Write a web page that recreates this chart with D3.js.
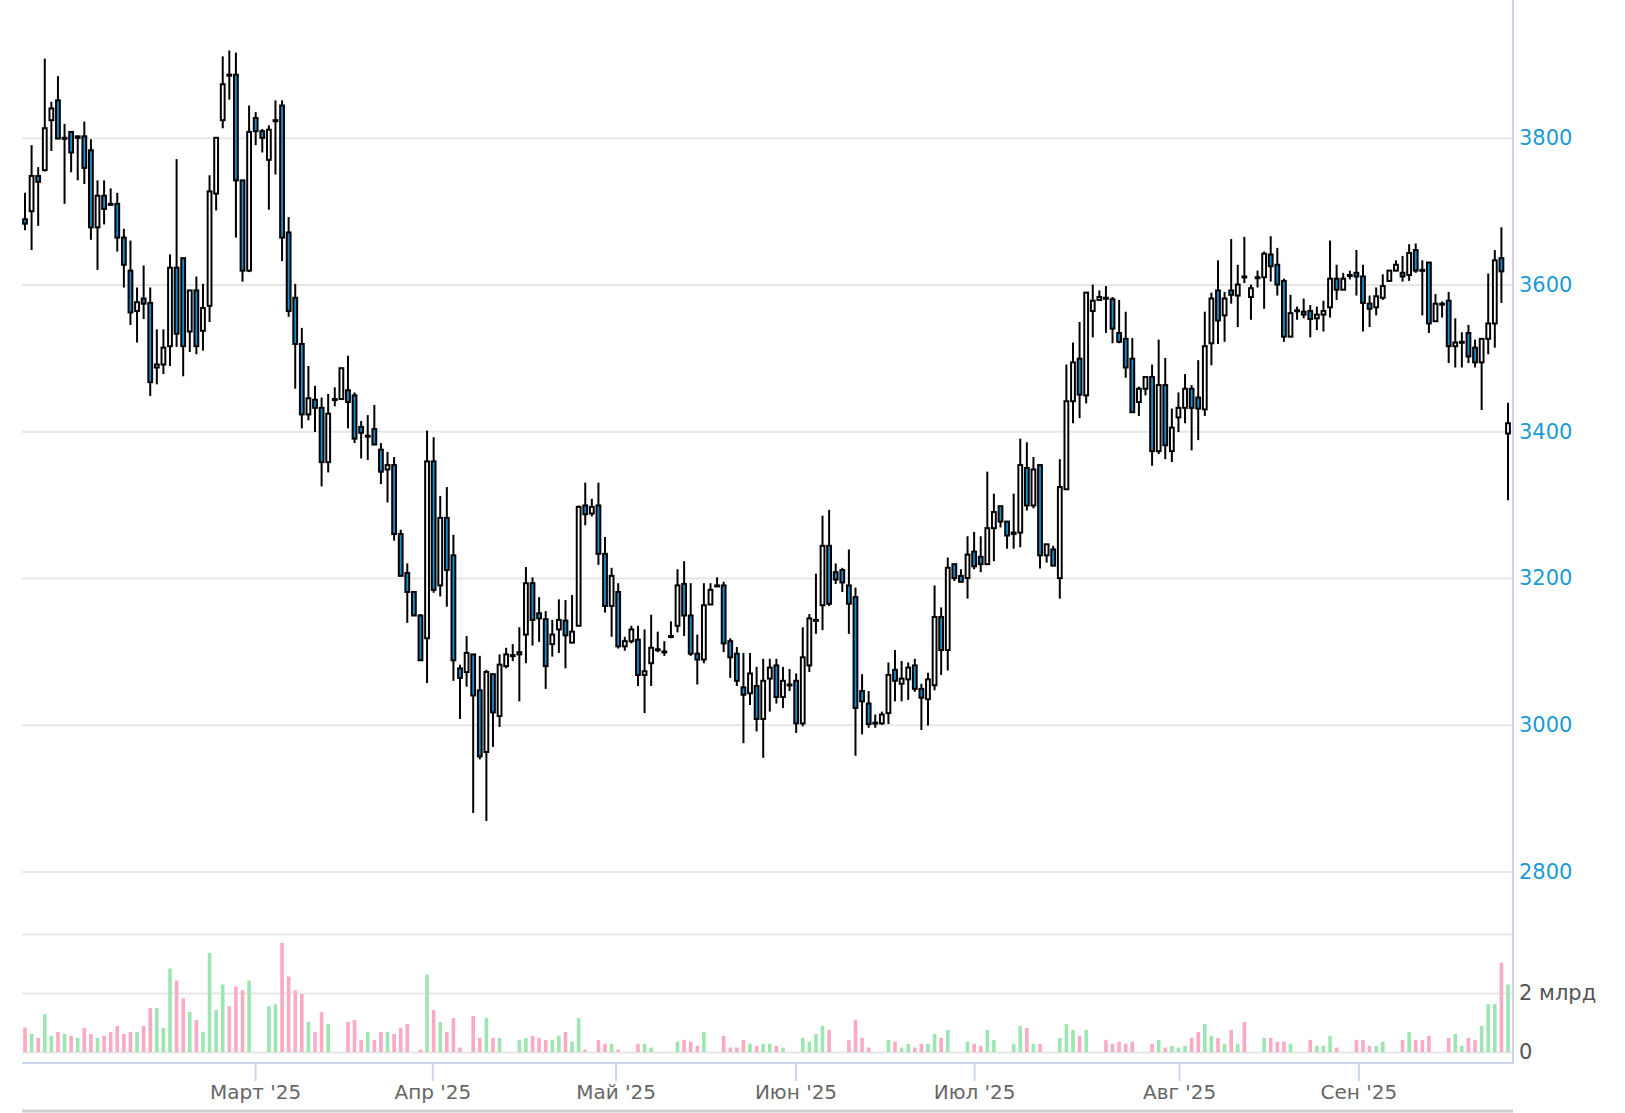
<!DOCTYPE html>
<html>
<head>
<meta charset="utf-8">
<script src="https://cdn.jsdelivr.net/npm/d3@7"></script>
<style>
  body { margin:0; background:#fff; }
  svg { display:block; }
</style>
</head>
<body>
<script>
// daily candles (index 0 = first candle on the left)
var opens = [
  3689,3700,3748,3756,3824,3851,3799,3808,3800,3802,
  3783,3678,3721,3710,3710,3664,3619,3564,3581,3575,
  3487,3491,3516,3623,3636,3536,3592,3537,3571,3724,
  3824,3886,3886,3742,3619,3827,3809,3770,3823,3844,
  3671,3582,3519,3423,3443,3432,3358,3444,3444,3456,
  3449,3406,3393,3403,3375,3348,3354,3260,3207,3181,
  3149,3118,3359,3190,3282,3231,3077,3072,3096,3047,
  2963,3069,3012,3080,3095,3096,3123,3193,3152,3144,
  3110,3130,3142,3112,3135,3299,3288,3299,3233,3162,
  3181,3107,3114,3116,3068,3084,3103,3100,3121,3135,
  3192,3149,3097,3089,3164,3190,3190,3114,3097,3051,
  3043,3053,3008,3063,3081,3038,3055,3060,3002,3081,
  3142,3163,3244,3208,3211,3190,3174,3046,3029,3002,
  3002,3016,3075,3056,3062,3081,3049,3035,3054,3147,
  3102,3219,3203,3200,3236,3229,3219,3268,3298,3277,
  3260,3262,3350,3299,3354,3231,3239,3200,3321,3441,
  3499,3449,3564,3579,3582,3580,3534,3526,3499,3440,
  3458,3474,3373,3463,3373,3419,3432,3458,3446,3430,
  3520,3592,3558,3592,3585,3611,3583,3610,3610,3641,
  3627,3605,3529,3564,3563,3564,3554,3559,3569,3608,
  3593,3613,3616,3611,3574,3569,3582,3605,3619,3616,
  3613,3647,3620,3630,3550,3574,3578,3516,3521,3534,
  3514,3494,3526,3547,3636,3397
];
var highs = [
  3725,3790,3760,3908,3849,3884,3819,3808,3803,3822,
  3798,3742,3742,3731,3725,3676,3660,3596,3626,3596,
  3539,3539,3641,3771,3636,3592,3611,3601,3749,3800,
  3911,3919,3916,3742,3844,3835,3812,3817,3851,3851,
  3692,3601,3541,3489,3462,3446,3451,3460,3486,3503,
  3453,3414,3422,3436,3384,3372,3365,3266,3220,3181,
  3151,3401,3392,3312,3324,3259,3082,3121,3096,3094,
  3075,3069,3096,3105,3110,3133,3215,3201,3174,3155,
  3143,3171,3170,3177,3299,3330,3308,3330,3256,3214,
  3193,3120,3135,3135,3130,3150,3127,3114,3141,3212,
  3223,3193,3123,3193,3193,3201,3195,3118,3106,3098,
  3098,3079,3090,3090,3090,3079,3076,3070,3133,3151,
  3206,3285,3293,3220,3214,3239,3187,3069,3046,3014,
  3018,3085,3102,3087,3085,3090,3056,3071,3190,3160,
  3228,3219,3212,3257,3263,3257,3345,3315,3298,3277,
  3315,3390,3385,3365,3354,3246,3244,3362,3491,3521,
  3549,3589,3600,3592,3598,3583,3579,3563,3527,3461,
  3474,3491,3525,3500,3431,3453,3478,3463,3497,3563,
  3589,3633,3590,3662,3627,3665,3600,3619,3645,3666,
  3650,3608,3586,3570,3581,3572,3570,3578,3660,3627,
  3616,3619,3647,3627,3585,3596,3614,3619,3633,3639,
  3655,3656,3633,3630,3587,3577,3590,3554,3535,3545,
  3525,3526,3615,3647,3678,3439
];
var lows = [
  3674,3647,3680,3754,3782,3799,3710,3753,3742,3737,
  3661,3620,3682,3708,3645,3596,3545,3521,3553,3448,
  3464,3478,3489,3515,3475,3508,3505,3510,3549,3701,
  3813,3852,3664,3604,3617,3790,3780,3702,3750,3632,
  3556,3458,3404,3415,3399,3325,3344,3434,3444,3404,
  3384,3363,3361,3382,3328,3303,3251,3203,3139,3149,
  3088,3057,3180,3175,3161,3060,3008,3052,2880,2953,
  2869,2970,2997,3077,3087,3032,3084,3108,3113,3049,
  3093,3098,3077,3112,3135,3272,3284,3218,3153,3120,
  3104,3101,3111,3053,3016,3053,3099,3094,3118,3126,
  3121,3094,3055,3084,3164,3188,3099,3064,3053,2975,
  3027,2991,2955,3018,3029,3023,3046,2989,2998,3072,
  3124,3129,3162,3192,3181,3124,2958,2987,2996,2996,
  3000,3001,3032,3032,3034,3045,2993,2999,3047,3068,
  3074,3196,3194,3172,3212,3208,3219,3223,3269,3240,
  3240,3242,3292,3295,3213,3221,3216,3172,3321,3411,
  3418,3438,3528,3579,3534,3520,3520,3473,3425,3421,
  3449,3353,3369,3362,3358,3399,3411,3374,3388,3421,
  3490,3519,3522,3574,3542,3602,3552,3596,3567,3604,
  3585,3522,3529,3552,3554,3528,3538,3536,3555,3579,
  3593,3607,3585,3536,3542,3558,3579,3605,3618,3604,
  3605,3616,3558,3534,3550,3555,3493,3487,3487,3493,
  3487,3429,3505,3514,3575,3306
];
var closes = [
  3683,3748,3740,3813,3840,3799,3800,3780,3802,3759,
  3678,3721,3703,3709,3664,3627,3562,3576,3574,3467,
  3491,3514,3623,3533,3516,3592,3516,3568,3727,3800,
  3873,3885,3742,3619,3808,3809,3800,3811,3824,3664,
  3564,3519,3423,3445,3432,3358,3424,3444,3486,3440,
  3390,3398,3394,3382,3345,3354,3260,3203,3181,3149,
  3088,3359,3184,3282,3211,3088,3064,3098,3040,2957,
  3072,3017,3082,3096,3095,3099,3193,3143,3145,3080,
  3123,3143,3122,3127,3297,3287,3297,3233,3162,3203,
  3107,3114,3130,3068,3073,3105,3102,3100,3120,3190,
  3149,3097,3089,3163,3184,3189,3111,3092,3060,3041,
  3070,3008,3060,3078,3038,3060,3055,3002,3092,3145,
  3143,3244,3165,3198,3194,3165,3023,3032,3001,3003,
  3014,3068,3060,3063,3078,3049,3037,3062,3147,3102,
  3214,3200,3195,3232,3216,3219,3268,3290,3277,3258,
  3262,3354,3299,3348,3231,3246,3217,3324,3441,3494,
  3450,3589,3578,3583,3581,3540,3522,3487,3426,3458,
  3474,3373,3463,3381,3405,3432,3458,3432,3431,3516,
  3581,3551,3581,3586,3600,3610,3595,3610,3642,3625,
  3600,3529,3561,3565,3559,3553,3559,3564,3608,3593,
  3608,3613,3611,3575,3567,3584,3598,3619,3627,3611,
  3643,3619,3619,3547,3574,3574,3516,3521,3522,3502,
  3494,3526,3547,3633,3618,3411
];
// volume, billions (0 = no bar)
var volumes = [
  0.83,0.61,0.48,1.28,0.55,0.68,0.61,0.55,0.48,0.82,
  0.61,0.48,0.55,0.68,0.88,0.61,0.68,0.68,0.88,1.49,
  1.49,0.82,2.83,2.42,1.82,1.35,1.08,0.68,3.36,1.42,
  2.29,1.55,2.22,2.09,2.42,0,0,1.55,1.62,3.70,
  2.56,2.09,1.96,1.02,0.68,1.35,0.95,0,0,1.02,
  1.08,0.41,0.68,0.41,0.68,0.68,0.61,0.82,0.95,0,
  0.08,2.63,1.42,1.02,0.68,1.15,0.15,0,1.22,0.48,
  1.15,0.48,0.48,0,0,0.41,0.48,0.55,0.48,0.41,
  0.41,0.55,0.68,0.35,1.15,0.08,0,0.41,0.28,0.28,
  0.08,0,0,0.28,0.28,0.15,0,0,0,0.35,
  0.41,0.35,0.21,0.68,0,0,0.55,0.15,0.15,0.41,
  0.28,0.21,0.28,0.28,0.21,0.15,0,0,0.48,0.35,
  0.61,0.88,0.75,0,0,0.41,1.08,0.48,0.15,0,
  0,0.41,0.35,0.15,0.28,0.15,0.28,0.28,0.61,0.48,
  0.75,0,0,0.35,0.28,0.21,0.75,0.41,0,0,
  0.28,0.88,0.82,0.28,0.28,0,0,0.48,0.95,0.75,
  0.55,0.75,0,0,0.41,0.28,0.35,0.28,0.35,0,
  0,0.28,0.41,0.15,0.21,0.15,0.21,0.48,0.68,0.95,
  0.55,0.48,0.28,0.75,0.28,1.02,0,0,0.48,0.48,
  0.35,0.35,0.28,0,0,0.41,0.21,0.21,0.55,0.15,
  0,0,0.41,0.41,0.21,0.21,0.35,0,0,0.41,
  0.68,0.41,0.41,0.55,0,0,0.48,0.61,0.21,0.48,
  0.41,0.88,1.62,1.62,3.03,2.29
];
var priceTicks = [2800, 3000, 3200, 3400, 3600, 3800];
var volTicks = [0, 2, 4];
var volTickLabels = ["0", "2 млрд", ""];
// month starts, in candle-index units
var monthTicks = [34.9, 61.8, 89.6, 116.9, 144.0, 175.1, 202.3];
var monthLabels = ["Март '25", "Апр '25", "Май '25", "Июн '25", "Июл '25", "Авг '25", "Сен '25"];

var W = 1625, H = 1113;
var left = 22, right = 1513;

var svg = d3.select("body").append("svg")
    .attr("width", W)
    .attr("height", H);

var x = d3.scaleLinear().domain([0, opens.length - 1]).range([25, 1508]);
var y = d3.scaleLinear().domain([2800, 3800]).range([871.6, 137.8]);
var yv = d3.scaleLinear().domain([0, 2]).range([1052, 993]);

var candles = opens.map(function(o, i) {
  return {i: i, o: o, h: highs[i], l: lows[i], c: closes[i], v: volumes[i]};
});

// price grid
svg.append("g")
    .attr("transform", "translate(" + right + ",0)")
    .call(d3.axisLeft(y).tickValues(priceTicks).tickSize(right - left).tickFormat(""))
    .call(function(g) { g.select(".domain").remove(); })
    .selectAll("line").attr("stroke", "#e6e6e6").attr("stroke-width", 2);

// volume grid
svg.append("g")
    .attr("transform", "translate(" + right + ",0)")
    .call(d3.axisLeft(yv).tickValues(volTicks).tickSize(right - left).tickFormat(""))
    .call(function(g) { g.select(".domain").remove(); })
    .selectAll("line").attr("stroke", "#e6e6e6").attr("stroke-width", 2);

// price labels (right)
var pAxis = svg.append("g")
    .attr("transform", "translate(" + right + ",0)")
    .call(d3.axisRight(y).tickValues(priceTicks).tickSize(0).tickPadding(6).tickFormat(d3.format("d")));
pAxis.select(".domain").remove();
pAxis.selectAll("text")
    .attr("fill", "#1b9ad6")
    .style("font-family", "'DejaVu Sans', sans-serif")
    .style("font-size", "21px");

// volume labels (right)
var vAxis = svg.append("g")
    .attr("transform", "translate(" + right + ",0)")
    .call(d3.axisRight(yv).tickValues(volTicks).tickSize(0).tickPadding(6)
      .tickFormat(function(d, i) { return volTickLabels[i]; }));
vAxis.select(".domain").remove();
vAxis.selectAll("text")
    .attr("fill", "#555")
    .style("font-family", "'DejaVu Sans', sans-serif")
    .style("font-size", "21px");

// right axis line
svg.append("line")
    .attr("x1", right).attr("x2", right)
    .attr("y1", 0).attr("y2", 1064)
    .attr("stroke", "#ccd6eb").attr("stroke-width", 2);

// volume bars
svg.append("g").selectAll("rect")
    .data(candles.filter(function(d) { return d.v > 0; }))
    .enter().append("rect")
    .attr("x", function(d) { return x(d.i) - 1.8; })
    .attr("width", 3.6)
    .attr("y", function(d) { return yv(d.v); })
    .attr("height", function(d) { return yv(0) - yv(d.v); })
    .attr("fill", function(d) { return d.c >= d.o ? "#9de6b1" : "#fbaac4"; });

// candles
var cg = svg.append("g").selectAll("g")
    .data(candles)
    .enter().append("g");

cg.append("line")
    .attr("x1", function(d) { return x(d.i); })
    .attr("x2", function(d) { return x(d.i); })
    .attr("y1", function(d) { return y(d.h); })
    .attr("y2", function(d) { return y(d.l); })
    .attr("stroke", "#000")
    .attr("stroke-width", 2);

cg.append("rect")
    .attr("x", function(d) { return x(d.i) - 1.9; })
    .attr("width", 3.8)
    .attr("y", function(d) { return y(Math.max(d.o, d.c)); })
    .attr("height", function(d) { return Math.max(1, Math.abs(y(d.o) - y(d.c))); })
    .attr("fill", function(d) { return d.c >= d.o ? "#fff" : "#168fd0"; })
    .attr("stroke", "#000")
    .attr("stroke-width", 2);

// x axis
var xAxis = svg.append("g")
    .attr("transform", "translate(0,1063)")
    .call(d3.axisBottom(x).tickValues(monthTicks).tickSize(18).tickPadding(4)
      .tickFormat(function(d, i) { return monthLabels[i]; }));
xAxis.select(".domain").remove();
xAxis.selectAll("line").attr("stroke", "#ccd6eb").attr("stroke-width", 2);
xAxis.selectAll("text")
    .attr("fill", "#666")
    .style("font-family", "'DejaVu Sans', sans-serif")
    .style("font-size", "20px");

svg.append("line")
    .attr("x1", left).attr("x2", right)
    .attr("y1", 1063).attr("y2", 1063)
    .attr("stroke", "#ccd6eb").attr("stroke-width", 2);

// navigator edge at the bottom
svg.append("line")
    .attr("x1", left).attr("x2", right)
    .attr("y1", 1111).attr("y2", 1111)
    .attr("stroke", "#d0d0d0").attr("stroke-width", 3);
</script>
</body>
</html>
